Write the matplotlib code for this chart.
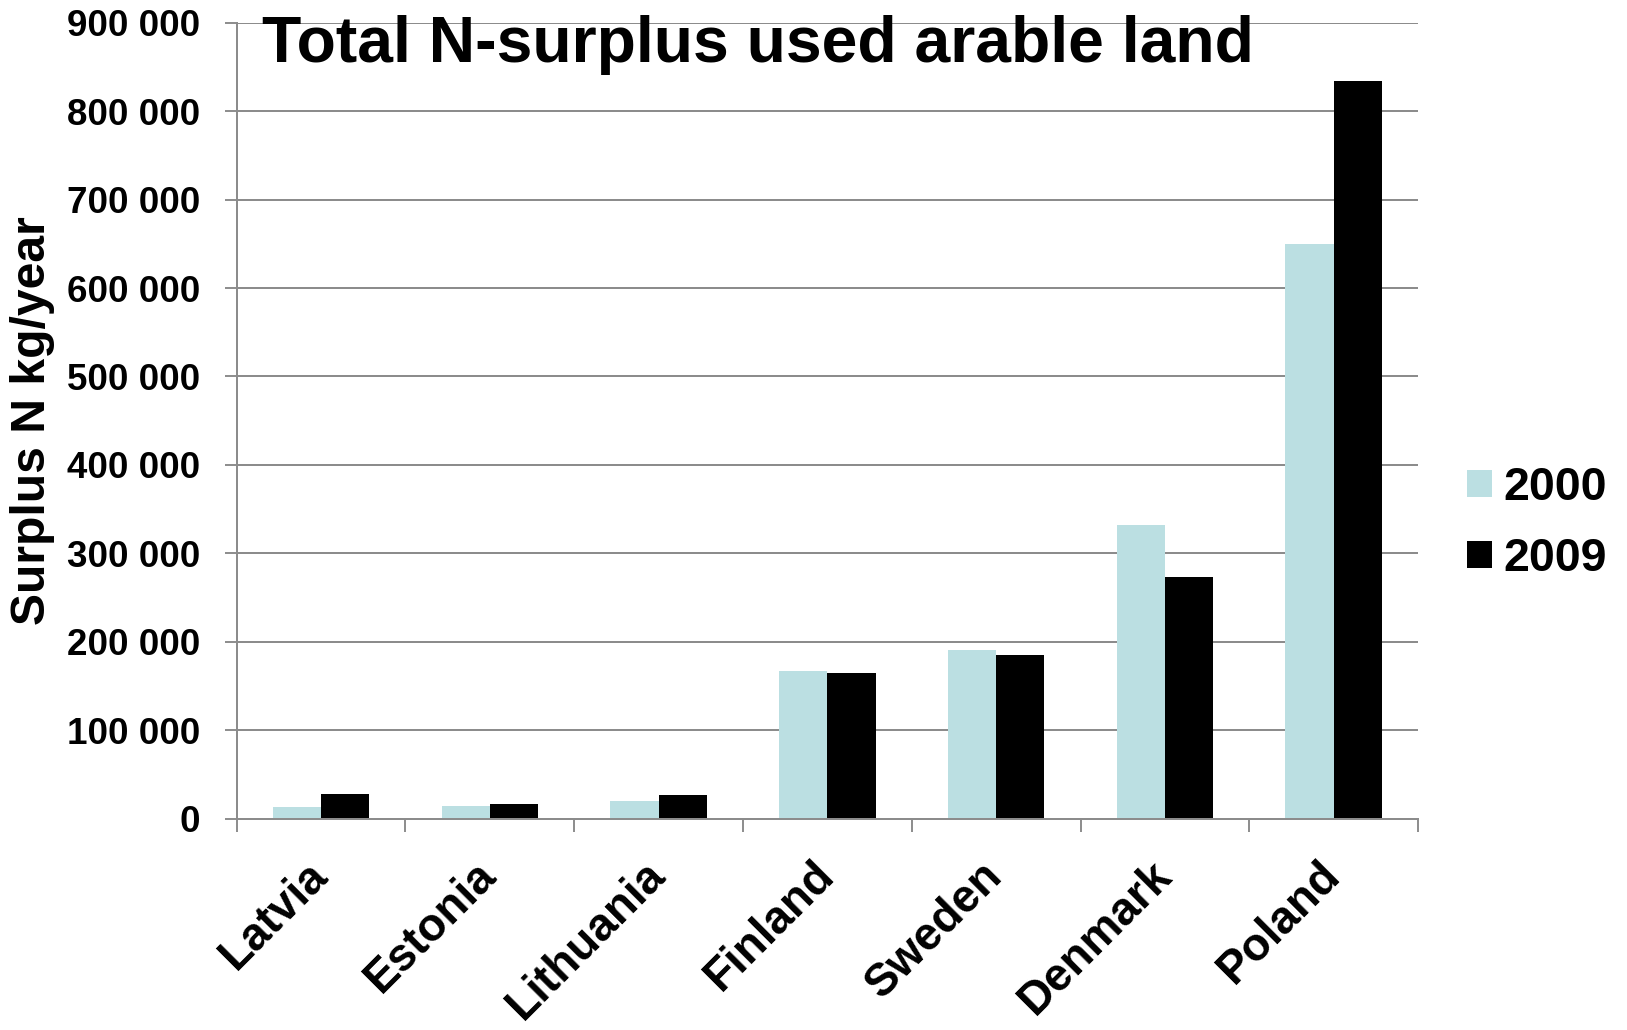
import matplotlib
matplotlib.use("Agg")
import matplotlib.pyplot as plt
from matplotlib.ticker import FuncFormatter, FixedLocator
from matplotlib.patches import Patch
import numpy as np

# Total nitrogen surplus on used arable land (kg N per year)
countries = ["Latvia", "Estonia", "Lithuania", "Finland", "Sweden", "Denmark", "Poland"]
years = ["2000", "2009"]
surplus_2000 = [13200, 13900, 20000, 166700, 190400, 332600, 649400]
surplus_2009 = [27600, 17000, 27100, 164800, 185500, 272800, 834500]
y_ticks = [0, 100000, 200000, 300000, 400000, 500000, 600000, 700000, 800000, 900000]

color_2000 = "#BBDFE2"
color_2009 = "#000000"
grid_gray = "#8C8C8C"

plt.rcParams["font.family"] = ["Liberation Sans", "DejaVu Sans"]
plt.rcParams["font.weight"] = "bold"

fig = plt.figure(figsize=(16.27, 10.30), dpi=100)
ax = fig.add_axes([0.1454, 0.2052, 0.7262, 0.7727])

x = np.arange(len(countries))
w = 1 / 3.5
ax.bar(x - w / 2, surplus_2000, width=w, color=color_2000, zorder=3)
ax.bar(x + w / 2, surplus_2009, width=w, color=color_2009, zorder=3)

ax.set_xlim(-0.5, len(countries) - 0.5)
ax.set_ylim(0, 900000)

# y axis
ax.yaxis.set_major_locator(FixedLocator(y_ticks))
ax.yaxis.set_major_formatter(FuncFormatter(lambda v, p: f"{int(v):,}".replace(",", " ")))
ax.tick_params(axis="y", which="major", length=9, width=1.4, color=grid_gray,
               pad=17, labelsize=26.5)
for t in ax.get_yticklabels():
    t.set_fontweight("bold")
ax.grid(axis="y", color=grid_gray, linewidth=1.44, zorder=0)

# x axis: boundary tick marks, category names centred between them
ax.xaxis.set_major_locator(FixedLocator(np.arange(-0.5, len(countries), 1.0)))
ax.xaxis.set_major_formatter(FuncFormatter(lambda v, p: ""))
ax.xaxis.set_minor_locator(FixedLocator(x))
ax.set_xticklabels(countries, minor=True, rotation=45, ha="right", va="center",
                   rotation_mode="anchor", fontsize=33, fontweight="bold")
ax.tick_params(axis="x", which="major", length=9, width=1.4, color=grid_gray)
ax.tick_params(axis="x", which="minor", length=0, pad=36)

for side in ("top", "right"):
    ax.spines[side].set_visible(False)
for side in ("left", "bottom"):
    ax.spines[side].set_color(grid_gray)
    ax.spines[side].set_linewidth(1.44)
    ax.spines[side].set_zorder(4)

fig.text(33 / 1627, 1 - 421 / 1030, "Surplus N kg/year", rotation=90,
         ha="center", va="center", fontsize=34.6, fontweight="bold")

fig.text(261.5 / 1627, 1 - 62 / 1030, "Total N-surplus used arable land",
         ha="left", va="baseline", fontsize=46.3, fontweight="bold", zorder=10)

handles = [Patch(facecolor=color_2000, edgecolor="none"),
           Patch(facecolor=color_2009, edgecolor="none")]
leg = fig.legend(handles, years, loc="center left",
                 bbox_to_anchor=(1467 / 1627, 1 - 523.5 / 1030),
                 frameon=False, fontsize=33.5, handlelength=0.54, handleheight=0.54,
                 handletextpad=0.24, labelspacing=0.58, borderpad=0, borderaxespad=0)
for t in leg.get_texts():
    t.set_fontweight("bold")

fig.savefig("out.png", dpi=100)
